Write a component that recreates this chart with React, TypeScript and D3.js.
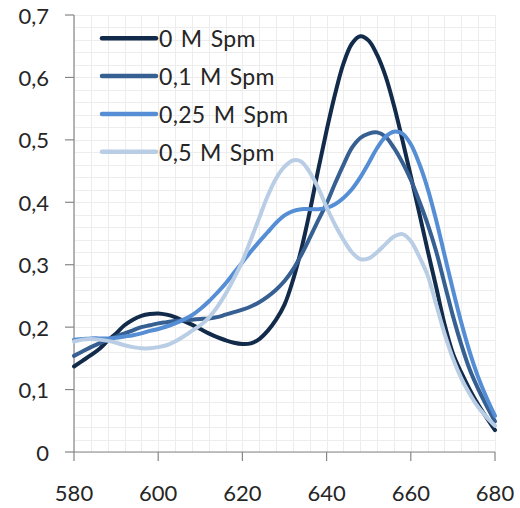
import React, { useMemo } from 'react';
import * as d3 from 'd3';

// wavelength (nm)
const wavelengths = [
  580, 582, 584, 586, 588, 590, 592, 594, 596, 598,
  600, 602, 604, 606, 608, 610, 612, 614, 616, 618,
  620, 622, 624, 626, 628, 630, 632, 634, 636, 638,
  640, 642, 644, 646, 648, 650, 652, 654, 656, 658,
  660, 662, 664, 666, 668, 670, 672, 674, 676, 678, 680,
];

const spm0 = [
  0.137, 0.146, 0.155, 0.165, 0.178, 0.19, 0.203, 0.212, 0.218, 0.221,
  0.222, 0.22, 0.216, 0.21, 0.204, 0.197, 0.19, 0.184, 0.179, 0.175,
  0.173, 0.174, 0.181, 0.194, 0.212, 0.236, 0.275, 0.325, 0.385, 0.452,
  0.515, 0.573, 0.622, 0.654, 0.666, 0.659, 0.636, 0.602, 0.555, 0.5,
  0.442, 0.383, 0.323, 0.265, 0.205, 0.158, 0.127, 0.1, 0.076, 0.055, 0.035,
];

const spm01 = [
  0.154, 0.161, 0.168, 0.174, 0.18, 0.185, 0.19, 0.195, 0.2, 0.203,
  0.206, 0.208, 0.21, 0.211, 0.212, 0.213, 0.214, 0.216, 0.22, 0.224,
  0.228, 0.233, 0.24, 0.249, 0.26, 0.274, 0.292, 0.316, 0.343, 0.371,
  0.398, 0.43, 0.46, 0.487, 0.503, 0.51, 0.512, 0.505, 0.487, 0.464,
  0.436, 0.402, 0.365, 0.322, 0.27, 0.218, 0.172, 0.132, 0.101, 0.074, 0.049,
];

const spm025 = [
  0.18, 0.181, 0.182, 0.182, 0.182, 0.183, 0.185, 0.187, 0.19, 0.194,
  0.197, 0.201, 0.206, 0.212, 0.219, 0.229, 0.241, 0.255, 0.27, 0.287,
  0.304, 0.321, 0.337, 0.352, 0.367, 0.379, 0.386, 0.389, 0.389, 0.389,
  0.391, 0.397, 0.407, 0.421, 0.44, 0.463, 0.487, 0.505, 0.513, 0.51,
  0.493, 0.462, 0.422, 0.372, 0.316, 0.26, 0.207, 0.16, 0.12, 0.087, 0.058,
];

const spm05 = [
  0.177, 0.18, 0.181, 0.18, 0.178, 0.175, 0.171, 0.168, 0.166, 0.166,
  0.168, 0.171, 0.177, 0.185, 0.194, 0.203, 0.215, 0.232, 0.253, 0.278,
  0.306, 0.34, 0.375, 0.41, 0.438, 0.457, 0.467, 0.465, 0.448, 0.423,
  0.392, 0.364, 0.34, 0.32, 0.309, 0.31, 0.32, 0.333, 0.345, 0.349,
  0.338, 0.313, 0.283, 0.237, 0.19, 0.15, 0.118, 0.093, 0.072, 0.056, 0.042,
];

const seriesNames = ['0 M Spm', '0,1 M Spm', '0,25 M Spm', '0,5 M Spm'];
const seriesColors = ['#132b4b', '#376092', '#558ed5', '#b9cde5'];

const xTicks = [580, 600, 620, 640, 660, 680];
const yTicks = [0, 0.1, 0.2, 0.3, 0.4, 0.5, 0.6, 0.7];

const W = 520;
const H = 508;
const left = 74, right = 495, top = 15, bottom = 452;
const font = 'Lato, "Open Sans", sans-serif';

export default function App() {
  const x = d3.scaleLinear().domain([580, 680]).range([left, right]);
  const y = d3.scaleLinear().domain([0, 0.7]).range([bottom, top]);

  // minor grid: every 4 nm, every 0.02
  const gridX = d3.range(580, 680.1, 4);
  const gridY = d3.range(0, 0.7001, 0.02);

  const series = [spm0, spm01, spm025, spm05];

  const line = d3.line<[number, number]>()
    .x(d => x(d[0]))
    .y(d => y(d[1]))
    .curve(d3.curveCatmullRom.alpha(0.5));

  const paths = useMemo(() => series.map(vals =>
    line(wavelengths.map((w, i) => [w, vals[i]] as [number, number]))
  ), []);

  const fmt = (v: number) => (v === 0 ? '0' : d3.format('.1f')(v).replace('.', ','));

  return (
    <svg width={W} height={H} style={{ position: 'absolute', left: 0, top: 0, background: '#fff' }}>
      {/* grid */}
      <g stroke="#ededed" strokeWidth={1}>
        {gridX.map(v => (
          <line key={'gx' + v} x1={Math.round(x(v)) + 0.5} x2={Math.round(x(v)) + 0.5} y1={top} y2={bottom} />
        ))}
        {gridY.map(v => (
          <line key={'gy' + v} x1={left} x2={right} y1={Math.round(y(v)) + 0.5} y2={Math.round(y(v)) + 0.5} />
        ))}
      </g>

      {/* axes */}
      <g stroke="#868686" strokeWidth={1.2}>
        <line x1={left} x2={left} y1={top} y2={bottom} />
        <line x1={left} x2={right} y1={bottom} y2={bottom} />
        {yTicks.map(v => (
          <line key={'ty' + v} x1={left - 9} x2={left} y1={y(v)} y2={y(v)} />
        ))}
        {xTicks.map(v => (
          <line key={'tx' + v} x1={x(v)} x2={x(v)} y1={bottom} y2={bottom + 9} />
        ))}
      </g>

      {/* tick labels */}
      <g fill="#262626" fontFamily={font} fontSize={22}>
        {yTicks.map(v => (
          <text key={'ly' + v} x={49} y={y(v)} textAnchor="end" dominantBaseline="central">
            {fmt(v)}
          </text>
        ))}
        {xTicks.map(v => (
          <text key={'lx' + v} x={x(v)} y={501} textAnchor="middle">
            {v}
          </text>
        ))}
      </g>

      {/* series */}
      <g fill="none" strokeWidth={4} strokeLinejoin="round" strokeLinecap="round">
        {paths.map((d, i) => (
          <path key={seriesNames[i]} d={d || ''} stroke={seriesColors[i]} />
        ))}
      </g>

      {/* legend */}
      <g fontFamily={font} fontSize={23} fill="#262626" style={{ wordSpacing: '2px', letterSpacing: '0.3px' }}>
        {seriesNames.map((name, i) => {
          const ly = 38.3 + i * 37.8;
          return (
            <g key={name}>
              <line x1={102} x2={156} y1={ly} y2={ly} stroke={seriesColors[i]} strokeWidth={4.5} strokeLinecap="round" />
              <text x={159} y={ly} dominantBaseline="central">{name}</text>
            </g>
          );
        })}
      </g>
    </svg>
  );
}
